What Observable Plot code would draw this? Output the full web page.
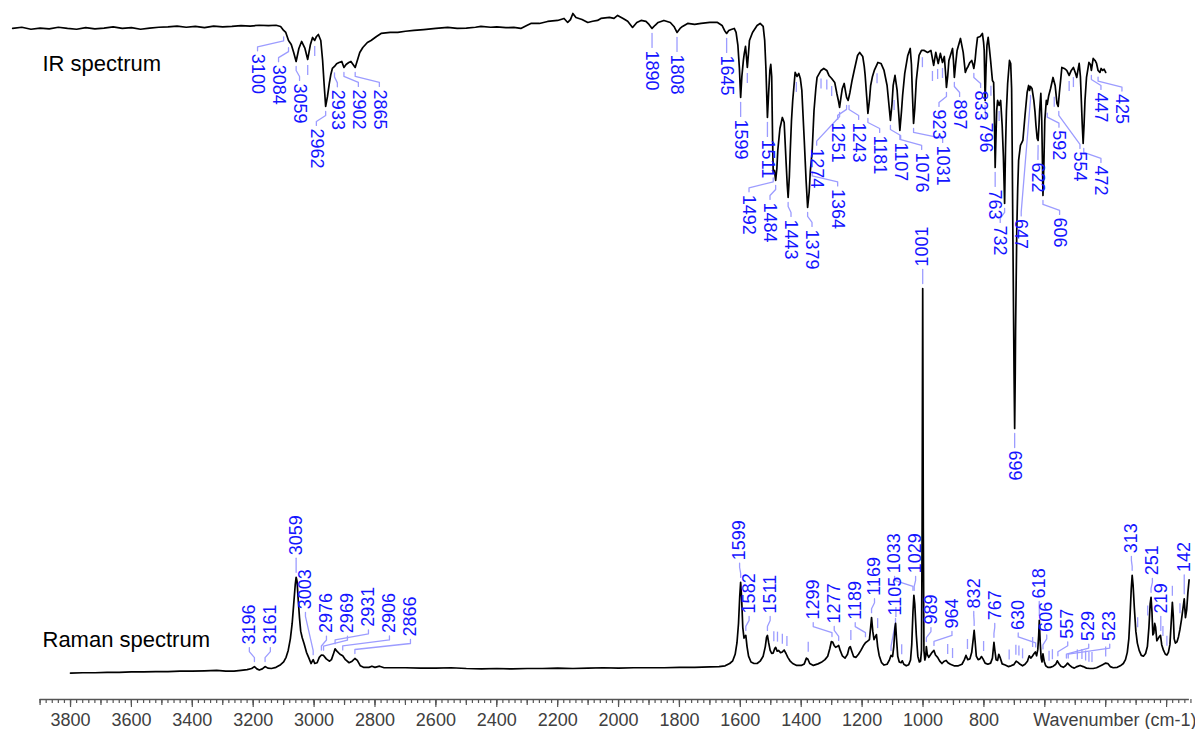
<!DOCTYPE html>
<html>
<head>
<meta charset="utf-8">
<script src="https://cdn.jsdelivr.net/npm/d3@7"></script>
<script src="https://cdn.jsdelivr.net/npm/@observablehq/plot@0.6"></script>
<style>
  html, body { margin: 0; padding: 0; background: #fff; overflow: hidden; }
  #chart { width: 1195px; height: 729px; overflow: hidden; }
</style>
</head>
<body>
<div id="chart"></div>
<script>
// ---------------- data ----------------
// IR spectrum: [wavenumber cm-1, relative transmittance]
const irSpectrum = [
[3990,100],[3960,100.3],[3930,99.8],[3900,100.1],[3870,99.9],[3840,100.3],[3810,100],[3780,99.8],[3750,100.2],[3720,99.9],
[3690,100.1],[3660,100.4],[3630,100],[3600,100.2],[3570,99.8],[3540,100.1],[3510,100.3],[3480,100.4],[3450,100.6],[3420,100.3],
[3390,100.5],[3360,100.2],[3330,100.6],[3300,100.4],[3270,100.5],[3240,100.7],[3210,100.6],[3180,100.8],[3150,100.7],[3125,100.8],
[3110,100.5],[3100,99.5],[3093,99],[3084,97],[3075,96],[3067,94],[3059,91.75],[3050,95],[3041,96.75],[3030,95],[3021,92.25],
[3012,96],[3005,97.75],[2998,97],[2992,98],[2986,98.5],[2978,97],[2972,92],[2967,86],[2962,80.5],[2956,83],[2950,86.25],
[2945,88.5],[2940,90],[2933,90.5],[2926,91.2],[2918,91.5],[2909,91.75],[2902,90.25],[2895,91],[2886,91.5],[2879,91.75],
[2872,91],[2865,90.25],[2858,92],[2850,94],[2840,95.25],[2825,96.5],[2813,97],[2795,98],[2780,98.75],[2750,99],[2725,99],
[2700,99.3],[2672,99.5],[2640,99.7],[2600,100],[2561,100.25],[2530,100],[2500,100.1],[2470,100.3],[2452,100.5],[2420,100.3],
[2400,100.4],[2370,100.2],[2344,100.25],[2321,100],[2300,100.8],[2288,101.25],[2260,101.25],[2233,101.75],[2200,102],[2179,102.5],
[2167,101.5],[2158,102.2],[2150,103.75],[2140,102.75],[2120,102.25],[2101,101.5],[2085,101.8],[2069,102],[2058,102.5],[2030,102.75],
[2015,102.5],[2003,103.25],[1985,102.5],[1970,101.8],[1954,100.25],[1940,101.5],[1926,102],[1910,101.75],[1900,101],[1890,100],
[1880,100.8],[1870,101.5],[1851,102],[1830,101.5],[1818,100.5],[1808,99],[1798,100],[1790,100.5],[1773,101.25],[1750,101],
[1729,101.25],[1700,101.5],[1675,101.5],[1660,100.75],[1652,99.5],[1645,98.75],[1638,99.5],[1630,99.75],[1620,100],[1614,99],
[1608,95.75],[1603,90],[1599,82.75],[1595,88],[1590,92],[1587,93.75],[1583,95.5],[1580,93],[1577,90.25],[1573,94],[1570,97],
[1560,99],[1545,100.75],[1535,101.25],[1525,100.5],[1520,97],[1516,90],[1511,77.75],[1507,84],[1503,89.5],[1500,91],[1497,88],
[1494,72],[1492,64],[1488,64.5],[1484,62],[1480,65],[1477,69.5],[1470,75],[1462,77.75],[1456,76.5],[1450,67],[1446,61],
[1443,57.75],[1439,63],[1436,69.5],[1432,77],[1428,82],[1420,89],[1414,88],[1408,88.75],[1403,87.5],[1398,84.5],[1390,72],
[1384,62],[1379,55.25],[1374,59],[1370,64.5],[1364,69.5],[1358,79.5],[1352,85],[1348,87.75],[1335,89.5],[1326,90],[1316,89.5],
[1309,88.25],[1300,87.5],[1290,86.5],[1283,83.75],[1278,82],[1274,80.25],[1269,83],[1265,85],[1259,86.25],[1254,84],[1251,82.75],
[1246,82],[1240,84],[1233,87],[1226,89.5],[1215,93.25],[1208,94],[1198,93],[1193,90.5],[1190,88.25],[1185,83],[1181,78.75],
[1176,82],[1172,85.75],[1166,88],[1160,89.5],[1148,91.5],[1138,91.25],[1128,89.5],[1118,85.75],[1112,81],[1107,77],[1102,81],
[1098,85.75],[1092,88.25],[1085,84.5],[1080,79],[1076,74.5],[1071,79],[1067,83.25],[1060,88.75],[1050,93.25],[1042,95],[1038,91],
[1035,84],[1031,76.25],[1027,80],[1022,87],[1013,93.25],[1005,94.5],[996,94.5],[985,94],[974,94.5],[965,90.75],[958,94],
[950,91.25],[943,93.75],[936,91.5],[930,93],[926,89],[923,85.25],[919,88],[915,92],[903,95],[900,92],[897,87.75],[893,91],
[888,94.5],[877,97.5],[868,94],[861,89],[856,90],[852,90.5],[846,91.5],[840,92],[836,91],[833,90],[829,92],[826,94.5],
[821,97.75],[812,98],[805,98.75],[801,96.5],[799,94.5],[796,82],[793,90],[790,95.75],[786,97.75],[782,95],[778,92],[772,87],
[768,86.5],[766,80],[763,65.25],[760,74],[758,79.5],[755,82],[750,80.75],[745,82],[740,75.75],[736,68],[732,56.25],[729,70],
[726,79.5],[722,86.25],[716,92],[712,91.25],[709,85],[707,69.5],[705,50],[703,32],[701,14],[699,0],[697,14],[696,24.5],
[694,37],[692,49.5],[689,60],[686,67],[680,70.75],[672,72],[665,78.25],[658,84],[653,85.75],[650,84.5],[647,85.5],[642,85],
[636,82],[632,79],[629,75.75],[625,72.5],[622,72],[619,76],[617,79.5],[613,83.75],[610,77],[608,68],[606,58.25],[603,66],
[600,77],[595,82],[592,81],[587,83.25],[581,85],[573,87.75],[566,85.75],[560,81.25],[556,80.5],[552,84],[548,87],[544,90.25],
[536,90],[528,89.5],[520,88.25],[513,89.5],[506,90.25],[500,89],[495,87.75],[490,90],[487,91.25],[483,88],[480,82],[477,76],
[474,71.25],[471,76],[468,82],[463,87.75],[455,91.5],[450,91],[447,89.5],[441,92.5],[435,92],[430,91.25],[425,89.5],[419,89],
[415,90],[410,89.5],[405,89.8],[400,89]
];

// Raman spectrum: [wavenumber cm-1, relative intensity]
const ramanSpectrum = [
[3800,0.1],[3760,0.2],[3720,0.2],[3680,0.3],[3640,0.3],[3600,0.4],[3560,0.4],[3520,0.5],[3480,0.5],[3440,0.6],[3400,0.6],
[3360,0.7],[3320,0.8],[3290,0.6],[3263,0.6],[3240,0.8],[3220,1.0],[3205,1.3],[3196,1.8],[3188,1.2],[3180,0.9],[3170,1.2],
[3161,1.8],[3152,1.4],[3140,1.3],[3125,1.6],[3110,2.3],[3100,3.0],[3092,4.2],[3085,6],[3078,9],[3072,13],[3067,18],[3062,23],
[3059,25],[3056,24],[3052,19],[3048,14.5],[3044,11],[3039,9.3],[3033,7.8],[3025,5.5],[3017,4],[3010,2.6],[3003,3.6],[2998,2.6],
[2990,2.8],[2983,4.2],[2976,4.8],[2969,4.7],[2960,3.8],[2950,3.2],[2943,3.6],[2936,5.2],[2931,6.4],[2925,5.8],[2915,5.0],
[2906,4.6],[2897,3.6],[2885,2.8],[2875,3.2],[2866,3.9],[2858,3.4],[2848,2.0],[2838,1.6],[2820,1.6],[2810,1.9],[2800,1.6],
[2785,1.9],[2770,1.5],[2740,1.5],[2700,1.5],[2650,1.4],[2600,1.4],[2550,1.5],[2500,1.3],[2450,1.2],[2400,1.3],[2350,1.2],
[2300,1.3],[2250,1.3],[2200,1.4],[2150,1.3],[2100,1.4],[2050,1.5],[2000,1.4],[1950,1.5],[1900,1.5],[1850,1.5],[1800,1.6],
[1750,1.6],[1700,1.7],[1670,1.8],[1650,2.0],[1635,2.6],[1625,3.3],[1617,5],[1611,8],[1606,13],[1602,20],[1599,23.7],[1596,20],
[1592,12],[1588,9.2],[1585,9.6],[1582,9.9],[1578,7],[1573,4.5],[1565,3.0],[1555,2.6],[1545,2.6],[1535,3.2],[1525,4.5],[1518,7],
[1514,9.4],[1511,9.9],[1507,8],[1502,6],[1497,5.2],[1492,5.3],[1487,6.5],[1484,6.8],[1479,5.8],[1474,6.0],[1468,5.4],[1462,5.6],
[1456,6.1],[1450,5.2],[1444,4.2],[1437,3.3],[1428,2.6],[1415,2.1],[1400,2.1],[1390,2.5],[1383,4.0],[1378,3.7],[1372,2.6],
[1360,2.1],[1345,2.5],[1334,2.9],[1322,3.6],[1313,4.5],[1306,6.5],[1301,8.3],[1297,8.2],[1292,7.3],[1287,6.8],[1282,7.0],
[1277,7.3],[1272,6.0],[1265,4.6],[1256,4.0],[1248,5.0],[1243,6.6],[1239,7.0],[1234,5.8],[1228,4.4],[1220,4.2],[1212,5.0],
[1204,6.0],[1196,7.2],[1189,8.0],[1182,8.4],[1176,8.8],[1172,12],[1169,14.5],[1165,11],[1161,8.8],[1157,9.5],[1153,10.1],
[1149,7],[1144,4.7],[1136,2.8],[1128,2.2],[1118,2.4],[1111,3.4],[1105,4.7],[1100,4.4],[1096,7],[1092,12],[1090,13],[1087,9],
[1083,4.5],[1078,3.0],[1072,2.8],[1068,3.3],[1063,2.4],[1055,2.0],[1047,2.3],[1041,3.5],[1037,7.5],[1033,16],[1030,20.3],
[1027,18],[1022,10],[1017,4.5],[1012,3.0],[1008,3.2],[1005,6],[1003,35],[1001,100],[999,38],[997,6],[994,3.5],[991,4.5],
[989,7],[986,5],[981,4.2],[976,4.8],[970,5.5],[964,6.0],[959,4.8],[952,4.2],[945,3.2],[938,2.6],[930,3.2],[924,3.4],[918,2.8],
[910,2.4],[898,2.0],[884,2.0],[872,2.4],[864,3.6],[859,4.7],[853,3.6],[846,3.8],[840,5.5],[835,9],[832,11.2],[829,8.5],
[825,4.5],[819,3.6],[813,3.8],[808,4.4],[803,3.8],[796,2.7],[787,2.4],[778,2.7],[772,4],[769,6.5],[767,8.1],[764,6],[760,3.6],
[755,3.4],[751,5],[747,4.2],[740,2.5],[730,2.2],[720,1.8],[711,2.0],[702,2.3],[694,3.2],[688,2.9],[681,2.4],[673,2.0],[665,2.4],
[657,3.2],[651,4.6],[646,4.0],[641,4.5],[635,5.2],[631,5.6],[627,4.6],[623,6.2],[620,10],[618,13.8],[615,8],[612,4],[609,3.0],
[606,5.1],[602,3.2],[597,2.0],[590,1.6],[582,1.6],[572,1.9],[564,2.4],[559,3.3],[554,2.6],[547,1.9],[539,1.6],[532,2.0],
[525,2.7],[519,2.2],[512,1.7],[503,1.4],[494,1.8],[484,2.1],[474,1.8],[463,1.4],[452,1.3],[441,1.3],[430,1.5],[420,1.9],
[410,2.3],[400,2.7],[393,2.6],[385,1.8],[375,1.5],[362,1.6],[352,2.0],[342,2.6],[335,3.6],[329,5.5],[324,9],[320,15],[316,22],
[313,25.5],[310,23],[306,17.2],[301,11],[296,7.9],[290,6.0],[283,4.7],[276,4.5],[269,5.2],[263,7],[258,12],[254,18],[251,19.8],
[248,16],[245,10],[242,10.5],[239,13],[236,12],[232,8.5],[228,9],[224,9.6],[220,9.9],[216,7.5],[210,6],[204,5],[199,4.8],
[194,5.5],[189,7.5],[185,13],[181,18.5],[178,15],[175,9],[171,7.9],[166,8.2],[161,9.5],[156,11.5],[151,14],[146,17],[142,19.4],
[138,14.5],[134,16.5],[130,21],[126,24.3]
];

// labelled and unlabelled (tick-only) peaks
const irPeakLabels = [3100,3084,3059,2962,2933,2902,2865,1890,1808,1645,1599,1511,1492,1484,1443,1379,1364,1274,1251,1243,1181,1107,1076,1031,923,897,833,796,763,732,699,647,622,606,592,554,472,447,425];
const irPeakMarkers = [3021,2998,1577,1416,1335,1316,1300,1151,1095,1002,969,952,936,777,750,569,520,506];
const ramanPeakLabels = [3196,3161,3059,3003,2976,2969,2931,2906,2866,1599,1582,1511,1299,1277,1189,1169,1105,1033,1029,1001,989,964,832,767,630,618,606,557,529,523,313,251,219,142];
const ramanPeakMarkers = [1490,1478,1462,1447,1377,1237,1149,1089,1070,919,903,854,801,717,695,685,673,640,586,575,493,478,466,455,445,400,295,262,212,199,181,156];

// axis tick labels and texts
const tickLabels = [3800,3600,3400,3200,3000,2800,2600,2400,2200,2000,1800,1600,1400,1200,1000,800];
const titles = {ir: "IR spectrum", raman: "Raman spectrum", axis: "Wavenumber (cm-1)"};

// ---------------- layout ----------------
const W = 1195, H = 729, MB = 30;
const xOpts = {type: "linear", domain: [4030, 105], range: [0, W]};
const yOpts = {type: "linear", domain: [-6.75, 174.8], range: [H - MB, 0]};
const IR_OFFSET = 63.64, IR_SCALE = 1.039;   // stacks the IR trace above the Raman trace
const irY = t => IR_OFFSET + IR_SCALE * t;
const axisExtent = [3900, 125];
const minorTicks = d3.range(3900, 119, -20);
const midTicks = d3.range(3900, 119, -100);
const majorTicks = d3.range(3800, 119, -200);

const xs = Plot.scale({x: xOpts});
const ys = Plot.scale({y: yOpts});

const irPx = irSpectrum.map(([w, t]) => ({x: xs.apply(w), y: ys.apply(irY(t))}));
const ramanPx = ramanSpectrum.map(([w, r]) => ({x: xs.apply(w), y: ys.apply(r)}));

function curveRange(pts, x0, x1) {
  let lo = Infinity, hi = -Infinity;
  for (let k = 0; k < pts.length - 1; k++) {
    const a = pts[k], b = pts[k + 1];
    if (b.x < x0 || a.x > x1) continue;
    const xa = Math.max(a.x, x0), xb = Math.min(b.x, x1);
    const f = x => b.x === a.x ? a.y : a.y + (b.y - a.y) * (x - a.x) / (b.x - a.x);
    const ya = f(xa), yb = f(xb);
    lo = Math.min(lo, ya, yb); hi = Math.max(hi, ya, yb);
  }
  return [lo, hi];
}

function peakPixel(w, pts, dir) {
  const px = xs.apply(w);
  const r = curveRange(pts, px - 1.5, px + 1.5);
  return {px, py: dir > 0 ? r[1] : r[0]};
}

// label de-overlapping: labels below IR peaks (dir +1), above Raman peaks (dir -1);
// strong peaks keep their label in place, weak ones yield
function placeLabels(peaks, pts, dir, baseY, HALF) {
  const GAP = 22, SEP = 21, CH = 10, TH = 40, EDGE = 9, PAD = 2;
  const items = peaks.map(w => {
    const {px, py} = peakPixel(w, pts, dir);
    const text = String(w);
    const depth = Math.max(5, Math.abs(py - baseY));
    return {w, text, px, py, lx: px, len: text.length * CH, wt: depth * depth};
  }).sort((a, b) => a.px - b.px);
  const req = x => { const r = curveRange(pts, x - HALF, x + HALF); return dir > 0 ? r[1] + 8 : r[0] - 8; };
  const startAt = (d, x) => dir > 0 ? Math.max(d.py + GAP, req(x)) : Math.min(d.py - GAP, req(x));
  const excess = (d, x) => Math.abs(startAt(d, x) - (d.py + dir * GAP));
  const free = (d, x) => { const e = excess(d, x); return e <= TH || e <= excess(d, d.lx); };
  const box = d => dir > 0 ? [d.start - PAD, d.start + d.len] : [d.start - d.len, d.start + PAD];
  const overlapY = (a, b) => { const ba = box(a), bb = box(b); return !(ba[1] <= bb[0] || bb[1] <= ba[0]); };
  for (const d of items) d.start = startAt(d, d.lx);
  for (let it = 0; it < 4000; it++) {
    let moved = false;
    for (let i = 0; i < items.length; i++) for (let j = i + 1; j < items.length; j++) {
      const a = items[i], b = items[j];
      const gap = b.lx - a.lx;
      if (gap >= SEP - 0.01 || !overlapY(a, b)) continue;
      const tot = Math.min(3, SEP - gap);
      const sa = tot * b.wt / (a.wt + b.wt), sb = tot * a.wt / (a.wt + b.wt);
      const aOk = free(a, a.lx - sa), bOk = free(b, b.lx + sb);
      if (aOk && bOk) { a.lx -= sa; b.lx += sb; }
      else if (aOk) a.lx -= tot;
      else if (bOk) b.lx += tot;
      else { a.lx -= sa; b.lx += sb; }
      a.start = startAt(a, a.lx); b.start = startAt(b, b.lx);
      moved = true;
    }
    for (const d of items) {
      if (excess(d, d.lx) > TH) {
        const el = excess(d, d.lx - 1), er = excess(d, d.lx + 1);
        const step = el < er ? -1 : er < el ? 1 : (Math.sign(d.px - d.lx) || 1);
        d.lx += step; moved = true;
      } else {
        // gentle pull back toward the peak
        const nx = d.lx + 0.02 * (d.px - d.lx);
        if (excess(d, nx) <= TH) d.lx = nx;
      }
      d.lx = Math.max(EDGE, Math.min(W - EDGE, d.lx));
      d.start = startAt(d, d.lx);
    }
    if (!moved) break;
  }
  // final sweep: remove any remaining overlap, moving whichever label is cheaper to move
  for (let pass = 0; pass < 60; pass++) {
    let changed = false;
    const order = items.slice().sort((a, b) => a.lx - b.lx || a.px - b.px);
    for (let i = 0; i < order.length; i++) for (let j = i + 1; j < order.length; j++) {
      const a = order[i], b = order[j];
      const gap = b.lx - a.lx;
      if (gap >= SEP - 0.01 || !overlapY(a, b)) continue;
      const need = SEP - gap;
      const costB = excess(b, b.lx + need), costA = excess(a, a.lx - need);
      if (costB <= costA) { b.lx += need; b.start = startAt(b, b.lx); }
      else { a.lx -= need; a.start = startAt(a, a.lx); }
      changed = true;
    }
    if (!changed) break;
  }
  return items;
}

function leaderPoints(items, dir, key) {
  const out = [];
  for (const d of items) {
    const p = [[d.px, d.py + dir * 5], [d.px, d.py + dir * 9], [d.lx, d.start - dir * 7], [d.lx, d.start - dir * 3]];
    for (const [x, y] of p) out.push({id: key + d.text, x: xs.invert(x), y: ys.invert(y)});
  }
  return out;
}

function markerRules(ws, pts, dir) {
  return ws.map(w => {
    const {py} = peakPixel(w, pts, dir);
    return {w, y1: ys.invert(py + dir * 6), y2: ys.invert(py + dir * 16)};
  });
}

const irItems = placeLabels(irPeakLabels, irPx, 1, ys.apply(irY(100)), 4);
const ramanItems = placeLabels(ramanPeakLabels, ramanPx, -1, ys.apply(0), 6);
const labelData = items => items.map(d => ({text: d.text, x: xs.invert(d.lx), y: ys.invert(d.start)}));

const LABEL = "#1414ff", LEADER = "#9c9cff", AXIS = "#555", AXTEXT = "#404040";
const font = "Arial, 'Liberation Sans', Helvetica, sans-serif";

const chart = Plot.plot({
  width: W, height: H,
  marginTop: 0, marginRight: 0, marginBottom: MB, marginLeft: 0,
  x: xOpts,
  y: {...yOpts, axis: null},
  style: {fontFamily: font, background: "#fff", color: "#000"},
  marks: [
    Plot.ruleX(markerRules(irPeakMarkers, irPx, 1), {x: "w", y1: "y1", y2: "y2", stroke: LEADER, strokeWidth: 1.3}),
    Plot.ruleX(markerRules(ramanPeakMarkers, ramanPx, -1), {x: "w", y1: "y1", y2: "y2", stroke: LEADER, strokeWidth: 1.3}),
    Plot.line(leaderPoints(irItems, 1, "ir"), {x: "x", y: "y", z: "id", stroke: LEADER, strokeWidth: 1.3}),
    Plot.line(leaderPoints(ramanItems, -1, "ra"), {x: "x", y: "y", z: "id", stroke: LEADER, strokeWidth: 1.3}),
    Plot.line(irSpectrum, {x: d => d[0], y: d => irY(d[1]), stroke: "#000", strokeWidth: 1.7}),
    Plot.line(ramanSpectrum, {x: d => d[0], y: d => d[1], stroke: "#000", strokeWidth: 1.7}),
    Plot.text(labelData(irItems), {x: "x", y: "y", text: "text", rotate: 90, textAnchor: "start", lineAnchor: "middle", fontSize: 18, fill: LABEL}),
    Plot.text(labelData(ramanItems), {x: "x", y: "y", text: "text", rotate: -90, textAnchor: "start", lineAnchor: "middle", fontSize: 18, fill: LABEL}),
    Plot.ruleY([yOpts.domain[0]], {x1: axisExtent[0], x2: axisExtent[1], stroke: AXIS, strokeWidth: 1.4}),
    Plot.axisX(minorTicks, {tickSize: 4, fill: "none", stroke: AXIS, strokeWidth: 1.2}),
    Plot.axisX(midTicks, {tickSize: 6, fill: "none", stroke: AXIS, strokeWidth: 1.2}),
    Plot.axisX(majorTicks, {tickSize: 8, fill: "none", stroke: AXIS, strokeWidth: 1.2}),
    Plot.axisX(tickLabels, {tickSize: 0, tickPadding: 14, fontSize: 18, fill: AXTEXT, label: null, tickFormat: d => String(d)}),
    Plot.text([titles.axis], {frameAnchor: "bottom-right", textAnchor: "end", lineAnchor: "top", dx: 1, dy: 14, fontSize: 18, fill: AXTEXT}),
    Plot.text([titles.ir], {frameAnchor: "top-left", textAnchor: "start", lineAnchor: "bottom", dx: 42, dy: 70, fontSize: 22, fill: "#000"}),
    Plot.text([titles.raman], {frameAnchor: "top-left", textAnchor: "start", lineAnchor: "bottom", dx: 42, dy: 646, fontSize: 22, fill: "#000"})
  ]
});
document.getElementById("chart").append(chart);
</script>
</body>
</html>
